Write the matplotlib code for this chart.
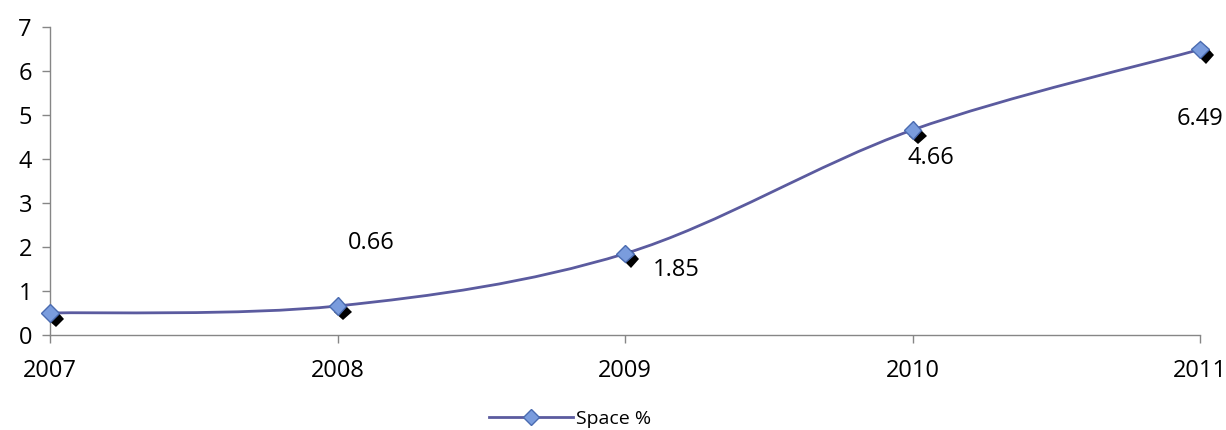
import numpy as np
import matplotlib
matplotlib.use('Agg')
import matplotlib.pyplot as plt
from matplotlib.path import Path
from matplotlib.patches import PathPatch
from matplotlib.lines import Line2D
import matplotlib.patheffects as pe

# data
years = [2007, 2008, 2009, 2010, 2011]
space = [0.5, 0.66, 1.85, 4.66, 6.49]
labels = ['', '0.66', '1.85', '4.66', '6.49']
# label offsets (points) as placed in the original chart
label_dx = [0, 24, 37, 13, 0]
label_dy = [0, 45, -12, -20, -50]

plt.rcParams['font.family'] = ['Open Sans', 'DejaVu Sans']

line_col = '#5B5B9F'
mk_face = '#7A9CDD'
mk_edge = '#4A6BB0'


def SmoothPath(x, y):
    # Excel-like smoothed line: cubic bezier segments, catmull-rom tangents
    n = len(x)
    verts = [(x[0], y[0])]
    codes = [Path.MOVETO]
    for i in range(n - 1):
        x0, y0 = (x[i - 1], y[i - 1]) if i > 0 else (x[i], y[i])
        x3, y3 = (x[i + 2], y[i + 2]) if i + 2 < n else (x[i + 1], y[i + 1])
        c1 = (x[i] + (x[i + 1] - x0) / 6.0, y[i] + (y[i + 1] - y0) / 6.0)
        c2 = (x[i + 1] - (x3 - x[i]) / 6.0, y[i + 1] - (y3 - y[i]) / 6.0)
        verts += [c1, c2, (x[i + 1], y[i + 1])]
        codes += [Path.CURVE4] * 3
    return Path(verts, codes)


fig = plt.figure(figsize=(12.26, 4.3), dpi=100)
ax = fig.add_axes([0.0408, 0.2209, 0.9380, 0.7163])

ax.add_patch(PathPatch(SmoothPath(years, space), facecolor='none',
                       edgecolor=line_col, lw=2.0, zorder=2))

# markers with black shadow
ax.plot(years, space, linestyle='none', marker='D', markersize=9,
        markerfacecolor=mk_face, markeredgecolor=mk_edge, markeredgewidth=1,
        zorder=3, clip_on=False,
        path_effects=[pe.SimplePatchShadow(offset=(4, -4), shadow_rgbFace='k',
                                           alpha=1.0), pe.Normal()])

for x, y, t, dx, dy in zip(years, space, labels, label_dx, label_dy):
    if t:
        ax.annotate(t, (x, y), xytext=(dx, dy), textcoords='offset points',
                    ha='center', va='center', fontsize=17, color='black')

ax.set_xlim(2007, 2011)
ax.set_ylim(0, 7)
ax.set_xticks(years)
ax.set_xticklabels([str(y) for y in years])
ax.set_yticks(range(0, 8))
for s in ['top', 'right']:
    ax.spines[s].set_visible(False)
for s in ['left', 'bottom']:
    ax.spines[s].set_color('#868686')
    ax.spines[s].set_linewidth(1)
ax.tick_params(axis='both', colors='#868686', labelcolor='black',
               labelsize=17, length=6, width=1)
ax.tick_params(axis='x', pad=11)
ax.tick_params(axis='y', pad=7)
for lab in ax.get_xticklabels() + ax.get_yticklabels():
    lab.set_clip_on(False)

handle = Line2D([], [], color=line_col, lw=2, marker='D', markersize=8,
                markerfacecolor=mk_face, markeredgecolor=mk_edge)
fig.legend([handle], ['Space %'], loc='center', bbox_to_anchor=(0.465, 0.025),
           frameon=False, fontsize=14, handlelength=4.3, handletextpad=0.15)

fig.savefig('out.png', dpi=100)
